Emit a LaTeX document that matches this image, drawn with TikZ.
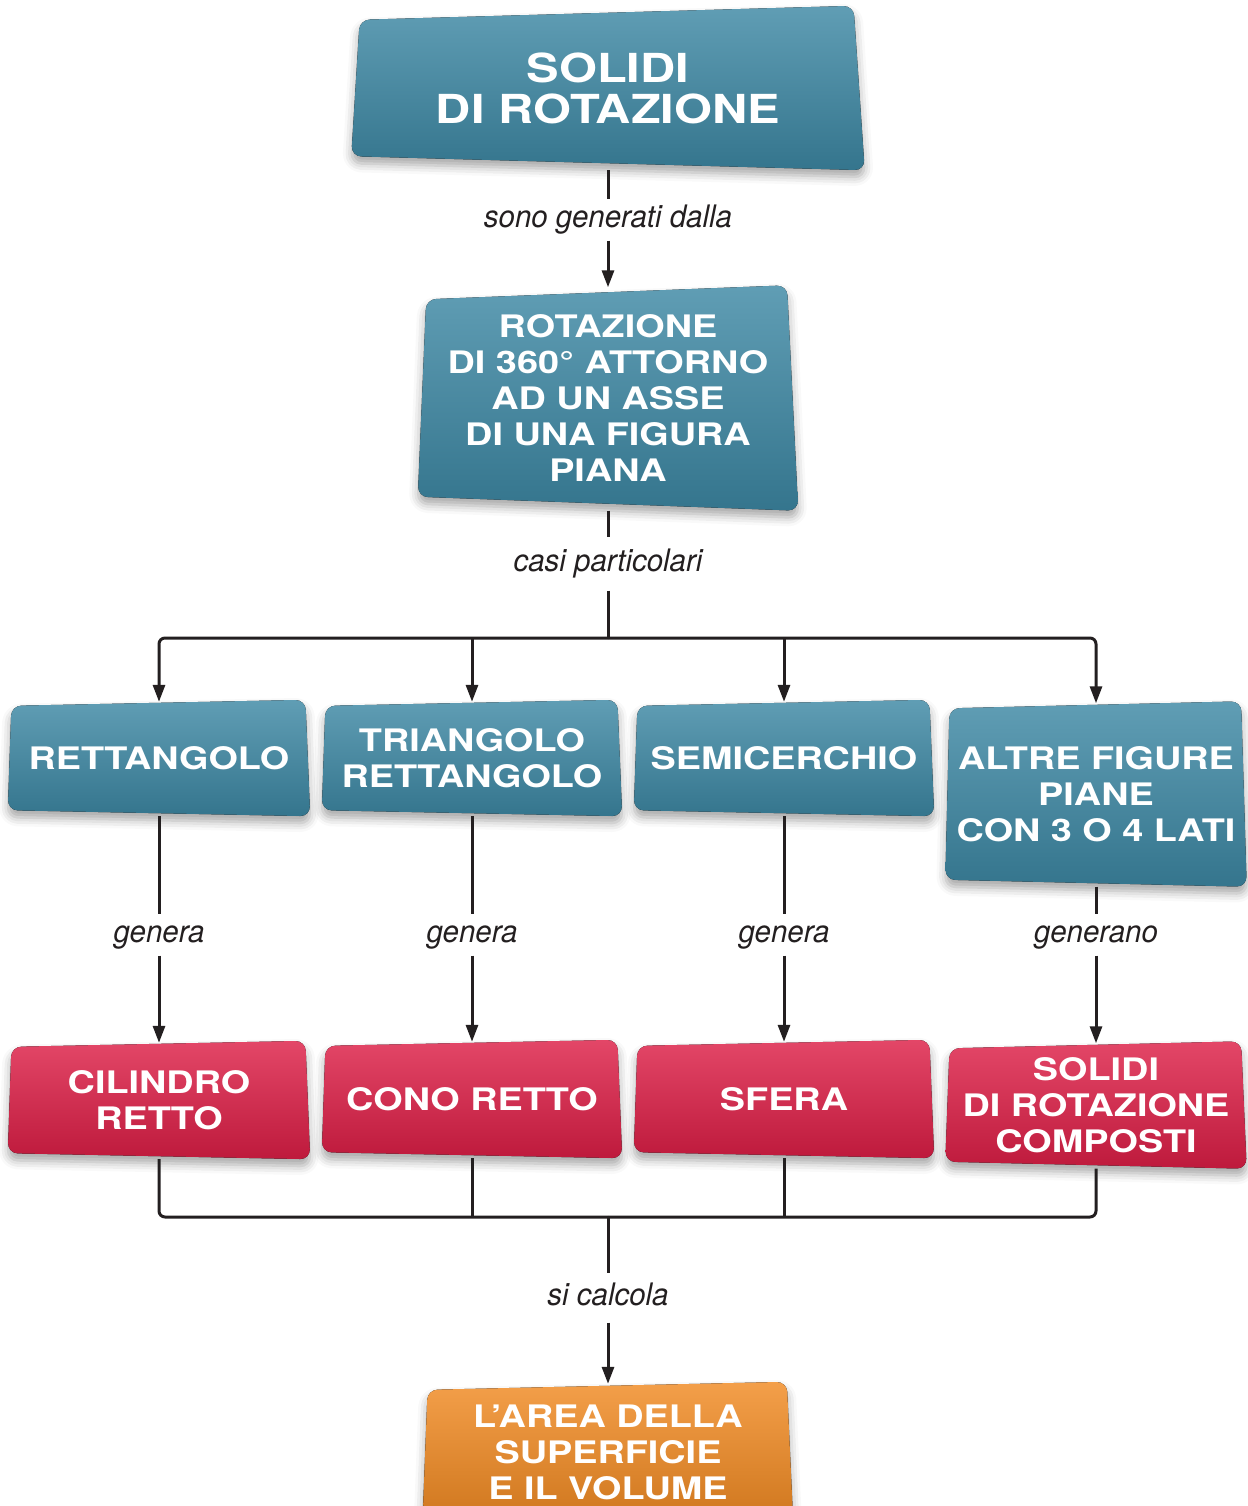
\documentclass[tikz,border=0pt]{standalone}
\usepackage{fontspec}
\usetikzlibrary{arrows.meta,backgrounds,shadows.blur}

\newfontfamily\boxfont[FakeStretch=1.22]{TeX Gyre Heros}
\newfontfamily\labfont[FakeStretch=0.95]{TeX Gyre Heros}

\definecolor{ink}{HTML}{231F20}
\definecolor{blu}{HTML}{3D88A4}
\definecolor{rosso}{HTML}{DD1E46}
\definecolor{arancio}{HTML}{F18A22}

\begin{document}
\begin{tikzpicture}[x=1pt,y=-1pt,
  panel/.style={inner sep=0pt, align=center, text=white,
    font=\boxfont\bfseries\fontsize{31}{36}\selectfont},
  lab/.style={inner xsep=4pt, inner ysep=6pt, text height=22pt, text depth=7pt,
    text=ink, font=\labfont\itshape\fontsize{31}{31}\selectfont},
  link/.style={draw=ink, line width=3pt},
  arrow/.style={link, -{Triangle[length=17pt,width=12pt]}, shorten >=-2pt}]
\useasboundingbox (0,0) rectangle (1247,1506);
\clip (0,0) rectangle (1247,1506);

% boxes
\node[panel, minimum width=513pt, minimum height=164pt,
  font=\boxfont\bfseries\fontsize{40}{41}\selectfont] (solidi) at (608,88) {SOLIDI\\DI ROTAZIONE};
\node[panel, minimum width=380pt, minimum height=225pt] (rotaz) at (608,398)
  {ROTAZIONE\\DI 360° ATTORNO\\AD UN ASSE\\DI UNA FIGURA\\PIANA};

\node[panel, minimum width=302pt, minimum height=116pt] (rett) at (159,758) {RETTANGOLO};
\node[panel, minimum width=300pt, minimum height=116pt] (tri) at (472,758) {TRIANGOLO\\RETTANGOLO};
\node[panel, minimum width=300pt, minimum height=116pt] (semi) at (784,758) {SEMICERCHIO};
\node[panel, minimum width=301pt, minimum height=185pt] (altre) at (1096,794) {ALTRE FIGURE\\PIANE\\CON 3 O 4 LATI};

\node[panel, minimum width=302pt, minimum height=118pt] (cil) at (159,1100) {CILINDRO\\RETTO};
\node[panel, minimum width=300pt, minimum height=118pt] (cono) at (472,1099) {CONO RETTO};
\node[panel, minimum width=300pt, minimum height=118pt] (sfera) at (784,1099) {SFERA};
\node[panel, minimum width=301pt, minimum height=127pt] (comp) at (1096,1105) {SOLIDI\\DI ROTAZIONE\\COMPOSTI};

\node[panel, minimum width=370pt, minimum height=140pt] (vol) at (608,1452) {L’AREA DELLA\\SUPERFICIE\\E IL VOLUME};

% labels
\node[lab] (l1) at (608,220) {sono generati dalla};
\node[lab, inner ysep=12pt] (l2) at (608,564) {casi particolari};
\node[lab] (g1) at (159,935) {genera};
\node[lab] (g2) at (472,935) {genera};
\node[lab] (g3) at (784,935) {genera};
\node[lab] (g4) at (1096,935) {generano};
\node[lab, inner ysep=10pt] (l4) at (608,1298) {si calcola};

% connectors
\draw[link] (solidi) -- (l1);
\draw[arrow] (l1) -- (rotaz);
\draw[link] (rotaz) -- (l2);
\coordinate (split) at (608,638);
\draw[link] (l2) -- (split);
\draw[arrow, rounded corners=6pt] (split) -| (rett);
\draw[arrow, rounded corners=6pt] (split) -| (altre);
\draw[arrow] (tri |- split) -- (tri);
\draw[arrow] (semi |- split) -- (semi);

\foreach \a/\g/\b in {rett/g1/cil, tri/g2/cono, semi/g3/sfera, altre/g4/comp} {
  \draw[link] (\a) -- (\g);
  \draw[arrow] (\g) -- (\b);
}

\coordinate (join) at (608,1217);
\draw[link, rounded corners=6pt] (cil) |- (join);
\draw[link, rounded corners=6pt] (comp) |- (join);
\draw[link] (cono) -- (cono |- join);
\draw[link] (sfera) -- (sfera |- join);
\draw[link] (join) -- (l4);
\draw[arrow] (l4) -- (vol);

% box shapes
\begin{scope}[on background layer]
\foreach \n/\c/\t in {solidi/blu/14, rotaz/blu/14, rett/blu/6, tri/blu/6, semi/blu/6,
    altre/blu/7, cil/rosso/6, cono/rosso/6, sfera/rosso/6, comp/rosso/7, vol/arancio/8}
  \fill[rounded corners=10pt, top color=\c!82!white, middle color=\c, bottom color=\c!86!black,
    blur shadow={shadow xshift=0pt, shadow yshift=-7pt, shadow blur radius=9pt, shadow opacity=35}]
    ([shift={(0.6*\t,\t)}]\n.north west) -- ([shift={(-0.8*\t,0)}]\n.north east)
    -- (\n.south east) -- ([shift={(0,-\t)}]\n.south west) -- cycle;
\end{scope}
\end{tikzpicture}
\end{document}
